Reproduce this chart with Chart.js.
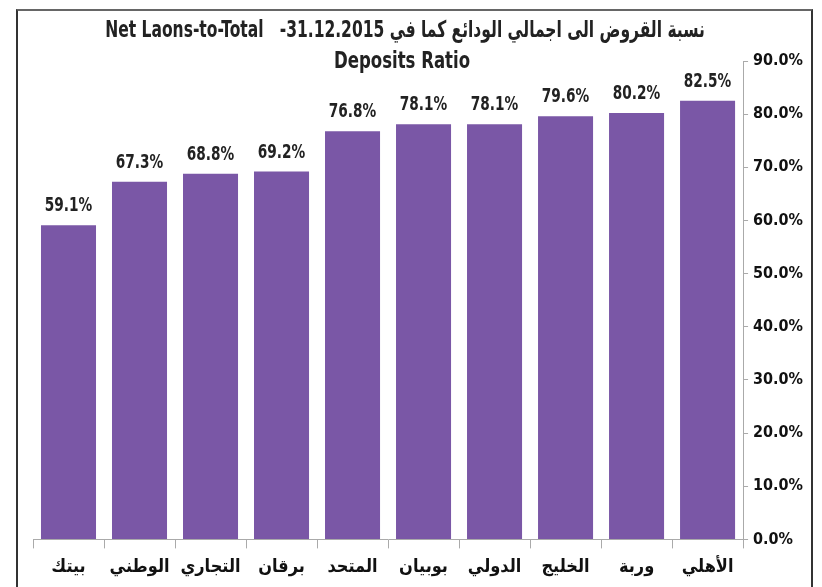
<!DOCTYPE html>
<html>
<head>
<meta charset="utf-8">
<script src="https://cdn.jsdelivr.net/npm/chart.js@4"></script>
<style>
  html, body { margin: 0; padding: 0; background: #fff; }
  #wrap { position: relative; width: 822px; height: 587px; }
  #frame { position: absolute; left: 16px; top: 9px; width: 797px; height: 620px;
           border: 2px solid #333; border-bottom: none; border-top-color: #666; box-sizing: border-box; }
  canvas { position: absolute; left: 0; top: 0; }
</style>
</head>
<body>
<div id="wrap">
  <div id="frame"></div>
  <canvas id="chart" width="822" height="587"></canvas>
</div>
<script>
const banks = ["بيتك", "الوطني", "التجاري", "برقان", "المتحد", "بوبيان", "الدولي", "الخليج", "وربة", "الأهلي"];
const ratios = [59.1, 67.3, 68.8, 69.2, 76.8, 78.1, 78.1, 79.6, 80.2, 82.5];
const titleLines = ["Net Laons-to-Total   -31.12.2015 نسبة القروض الى اجمالي الودائع كما في", "Deposits Ratio"];

const fontFamily = '"Liberation Sans Narrow", "Arial Narrow", "DejaVu Sans Condensed", Arial, sans-serif';

// draw text squeezed sideways, the original uses a narrow face
function narrowText(ctx, text, x, y, squeeze) {
    ctx.save();
    ctx.translate(x, y);
    ctx.scale(squeeze, 1);
    ctx.fillText(text, 0, 0);
    ctx.restore();
}

const labelsPlugin = {
    id: "labels",
    afterDatasetsDraw(chart) {
        const ctx = chart.ctx;
        ctx.save();
        ctx.fillStyle = "#222";
        ctx.textAlign = "center";
        ctx.textBaseline = "middle";
        ctx.direction = "ltr";
        ctx.font = "bold 19px " + fontFamily;
        const meta = chart.getDatasetMeta(0);
        meta.data.forEach(function (bar, i) {
            narrowText(ctx, ratios[i].toFixed(1) + "%", bar.x, bar.y - 19, 0.8);
        });

        ctx.font = "bold 23px " + fontFamily;
        narrowText(ctx, titleLines[0], 405, 31, 0.75);
        narrowText(ctx, titleLines[1], 402, 62, 0.8);
        ctx.restore();
    }
};

const ctx = document.getElementById("chart").getContext("2d");
new Chart(ctx, {
    type: "bar",
    data: {
        labels: banks,
        datasets: [{
            data: ratios,
            backgroundColor: "#7A57A6",
            barPercentage: 0.775,
            categoryPercentage: 1.0
        }]
    },
    options: {
        responsive: false,
        animation: false,
        layout: {
            padding: { top: 61, left: 33, right: 14, bottom: 1 }
        },
        plugins: {
            legend: { display: false },
            tooltip: { enabled: false }
        },
        scales: {
            x: {
                grid: {
                    drawOnChartArea: false,
                    drawTicks: true,
                    tickLength: 9,
                    color: "#aaa"
                },
                border: { color: "#aaa" },
                ticks: {
                    color: "#111",
                    padding: 8,
                    font: { family: fontFamily, size: 18, weight: "bold" }
                }
            },
            y: {
                position: "right",
                min: 0,
                max: 90,
                grid: {
                    drawOnChartArea: false,
                    drawTicks: true,
                    tickLength: 5,
                    color: "#aaa"
                },
                border: { color: "#aaa" },
                ticks: {
                    stepSize: 10,
                    color: "#111",
                    padding: 5,
                    font: { family: fontFamily, size: 16, weight: "bold" },
                    callback: function (v) { return v.toFixed(1) + "%"; }
                }
            }
        }
    },
    plugins: [labelsPlugin]
});
</script>
</body>
</html>
